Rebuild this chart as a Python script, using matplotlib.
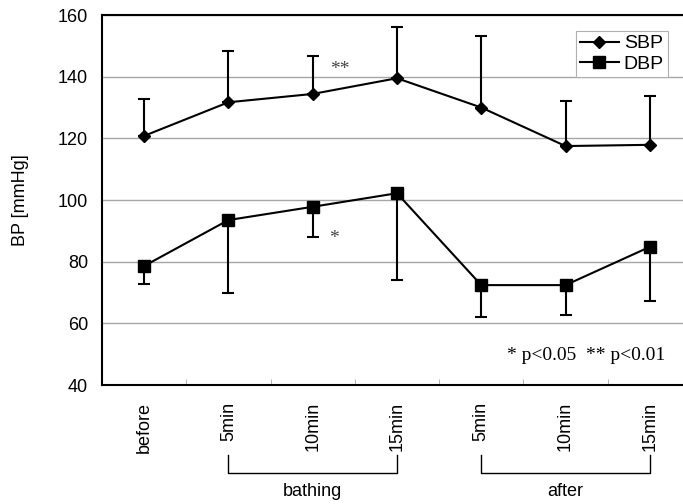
import numpy as np
import matplotlib
matplotlib.use("Agg")
import matplotlib.pyplot as plt
import matplotlib.transforms as mtransforms
from matplotlib.lines import Line2D

plt.rcParams['font.family'] = ['Liberation Sans', 'DejaVu Sans']

# data
labels = ["before", "5min", "10min", "15min", "5min", "10min", "15min"]
sbp = [120.8, 131.7, 134.4, 139.5, 130.0, 117.5, 117.9]
sbp_err_up = [11.9, 16.7, 12.4, 16.6, 23.2, 14.5, 15.9]
dbp = [78.6, 93.5, 97.8, 102.2, 72.4, 72.4, 84.8]
dbp_err_dn = [5.7, 23.8, 9.8, 28.1, 10.3, 9.7, 17.6]
groups = [("bathing", 1, 3), ("after", 4, 6)]

x = np.arange(len(labels))
FS = 13

fig = plt.figure(figsize=(6.83, 5.04), dpi=100)
ax = fig.add_axes([0.1493, 0.2361, 0.8638, 0.7341])

ax.errorbar(x, sbp, yerr=[np.zeros(len(sbp)), sbp_err_up], color="black", lw=1.5,
            marker="D", ms=6, capsize=4, elinewidth=1.5, capthick=1.5)
ax.errorbar(x, dbp, yerr=[dbp_err_dn, np.zeros(len(dbp))], color="black", lw=1.5,
            marker="s", ms=8, capsize=4, elinewidth=1.5, capthick=1.5)

ax.set_xlim(-0.5, len(labels) - 0.5)
ax.set_ylim(40, 160)
ax.set_yticks(np.arange(40, 161, 20))
ax.yaxis.grid(True, color="#a6a6a6", lw=1)
ax.set_axisbelow(True)
ax.tick_params(axis="y", length=0, pad=10, labelsize=FS)

ax.set_xticks(x)
ax.set_xticklabels(labels, rotation=90, fontsize=FS)
ax.set_xticks(np.arange(0.5, len(labels) - 1, 1), minor=True)
ax.tick_params(axis="x", which="major", length=0, pad=12)
ax.tick_params(axis="x", which="minor", direction="in", length=4, color="#a6a6a6")

for s in ["left", "top", "bottom", "right"]:
    ax.spines[s].set_linewidth(1.5)
    ax.spines[s].set_color("black")

ax.set_ylabel("BP [mmHg]", fontsize=FS, labelpad=21)

# group brackets under the tick labels
trans = mtransforms.blended_transform_factory(ax.transData, ax.transAxes)
for name, a, b in groups:
    ax.plot([a, a, b, b], [-0.189, -0.238, -0.238, -0.189], color="black", lw=1,
            transform=trans, clip_on=False)
    ax.text((a + b) / 2, -0.289, name, transform=trans, ha="center", va="center",
            fontsize=FS)

# significance marks
ax.text(2.32, 142.3, "**", ha="center", va="center", fontsize=14,
        family="Liberation Serif", color="#444444")
ax.text(2.25, 87.5, "*", ha="center", va="center", fontsize=14,
        family="Liberation Serif", color="#444444")
ax.text(0.954, 0.08, "* p<0.05  ** p<0.01", transform=ax.transAxes, ha="right",
        va="center", fontsize=14, family="Liberation Serif")

handles = [Line2D([], [], color="black", lw=1.5, marker="D", ms=6),
           Line2D([], [], color="black", lw=1.5, marker="s", ms=8)]
leg = ax.legend(handles, ["SBP", "DBP"], loc="upper right",
                bbox_to_anchor=(0.959, 0.957), borderaxespad=0,
                fontsize=14, fancybox=False, edgecolor="#b0b0b0", framealpha=1,
                handlelength=2.0, handletextpad=0.25, borderpad=0.2, labelspacing=0.15)
leg.get_frame().set_linewidth(0.8)

fig.savefig("out.png", dpi=100)
